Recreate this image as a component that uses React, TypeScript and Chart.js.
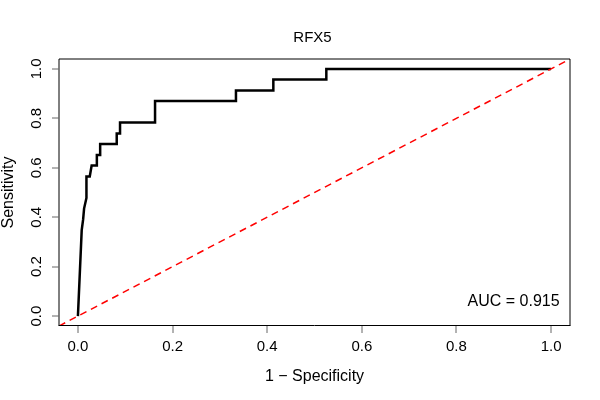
import React, { useEffect, useRef } from "react";
import { Chart, registerables } from "chart.js";

Chart.register(...registerables);

const titleText = "RFX5";
const xTitle = "1 − Specificity";
const yTitle = "Sensitivity";
const aucText = "AUC = 0.915";

// ROC curve points (1 - specificity, sensitivity)
const fpr = [
  0.0, 0.008, 0.011, 0.013, 0.018, 0.018, 0.025, 0.029, 0.04, 0.04, 0.047, 0.047,
  0.082, 0.082, 0.089, 0.089, 0.163, 0.163, 0.334, 0.334, 0.413, 0.413,
  0.525, 0.525, 1.0,
];
const tpr = [
  0.0, 0.348, 0.391, 0.435, 0.478, 0.565, 0.565, 0.609, 0.609, 0.652, 0.652, 0.696,
  0.696, 0.739, 0.739, 0.783, 0.783, 0.87, 0.87, 0.913, 0.913, 0.957,
  0.957, 1.0, 1.0,
];

// reference diagonal
const diagX = [-0.04, 1.04];
const diagY = [-0.04, 1.04];

const tickValues = [0, 0.2, 0.4, 0.6, 0.8, 1.0];
const tickLabels = ["0.0", "0.2", "0.4", "0.6", "0.8", "1.0"];

const aucPos = { x: 1.018, y: 0.057 };

const FONT = '"Liberation Sans", Arial, Helvetica, sans-serif';

const rPlugin = {
  id: "rstyle",
  afterDraw(chart: any) {
    const { ctx, chartArea: a, scales } = chart;
    const xs = scales.x;
    const ys = scales.y;
    ctx.save();
    // box
    ctx.strokeStyle = "#000";
    ctx.lineWidth = 1;
    ctx.beginPath();
    ctx.moveTo(a.left, a.bottom - 0.5);
    ctx.lineTo(a.left, a.top);
    ctx.lineTo(a.right, a.top);
    ctx.lineTo(a.right, a.bottom - 0.5);
    ctx.stroke();
    ctx.beginPath();
    ctx.moveTo(a.left - 0.5, a.bottom - 0.5);
    ctx.lineTo(a.right + 0.5, a.bottom - 0.5);
    ctx.stroke();

    // ticks
    ctx.strokeStyle = "#666";
    ctx.beginPath();
    tickValues.forEach((v) => {
      const px = Math.round(xs.getPixelForValue(v));
      ctx.moveTo(px, a.bottom);
      ctx.lineTo(px, a.bottom + 7);
      const py = Math.round(ys.getPixelForValue(v));
      ctx.moveTo(a.left, py);
      ctx.lineTo(a.left - 7, py);
    });
    ctx.stroke();

    ctx.fillStyle = "#000";
    ctx.font = `15px ${FONT}`;
    ctx.textAlign = "center";
    ctx.textBaseline = "middle";
    tickValues.forEach((v, i) => {
      const px = xs.getPixelForValue(v);
      ctx.fillText(tickLabels[i], px, a.bottom + 21);
      const py = ys.getPixelForValue(v);
      ctx.save();
      ctx.translate(a.left - 22, py);
      ctx.rotate(-Math.PI / 2);
      ctx.fillText(tickLabels[i], 0, 0);
      ctx.restore();
    });

    // axis titles
    ctx.font = `16px ${FONT}`;
    ctx.fillText(xTitle, (a.left + a.right) / 2, a.bottom + 51);
    ctx.save();
    ctx.translate(9, (a.top + a.bottom) / 2);
    ctx.rotate(-Math.PI / 2);
    ctx.fillText(yTitle, 0, 0);
    ctx.restore();

    // main title
    ctx.font = `15px ${FONT}`;
    ctx.fillText(titleText, (a.left + a.right) / 2 - 2, 38);

    // AUC text
    ctx.font = `16px ${FONT}`;
    ctx.textAlign = "right";
    ctx.fillText(aucText, xs.getPixelForValue(aucPos.x), ys.getPixelForValue(aucPos.y));
    ctx.restore();
  },
};

export default function App() {
  const ref = useRef<HTMLCanvasElement>(null);
  useEffect(() => {
    if (!ref.current) return;
    const chart = new Chart(ref.current, {
      type: "line",
      data: {
        datasets: [
          {
            label: "ROC",
            data: fpr.map((v, i) => ({ x: v, y: tpr[i] })),
            borderColor: "#000",
            borderWidth: 2.5,
            pointRadius: 0,
            tension: 0,
            fill: false,
            order: 1,
          },
          {
            label: "diag",
            data: diagX.map((v, i) => ({ x: v, y: diagY[i] })),
            borderColor: "#ff0000",
            borderWidth: 1.5,
            borderDash: [7, 5],
            pointRadius: 0,
            tension: 0,
            fill: false,
            order: 0,
          },
        ],
      },
      options: {
        animation: false,
        responsive: false,
        devicePixelRatio: 1,
        layout: { padding: { left: 59, right: 30, top: 59, bottom: 74 } },
        plugins: {
          legend: { display: false },
          tooltip: { enabled: false },
          title: { display: false },
        },
        scales: {
          x: { type: "linear", min: -0.04, max: 1.04, display: false },
          y: { type: "linear", min: -0.04, max: 1.04, display: false },
        },
      },
      plugins: [rPlugin],
    });
    return () => chart.destroy();
  }, []);
  return (
    <canvas
      ref={ref}
      width={600}
      height={400}
      style={{ position: "absolute", left: 0, top: 0, background: "#fff" }}
    />
  );
}
